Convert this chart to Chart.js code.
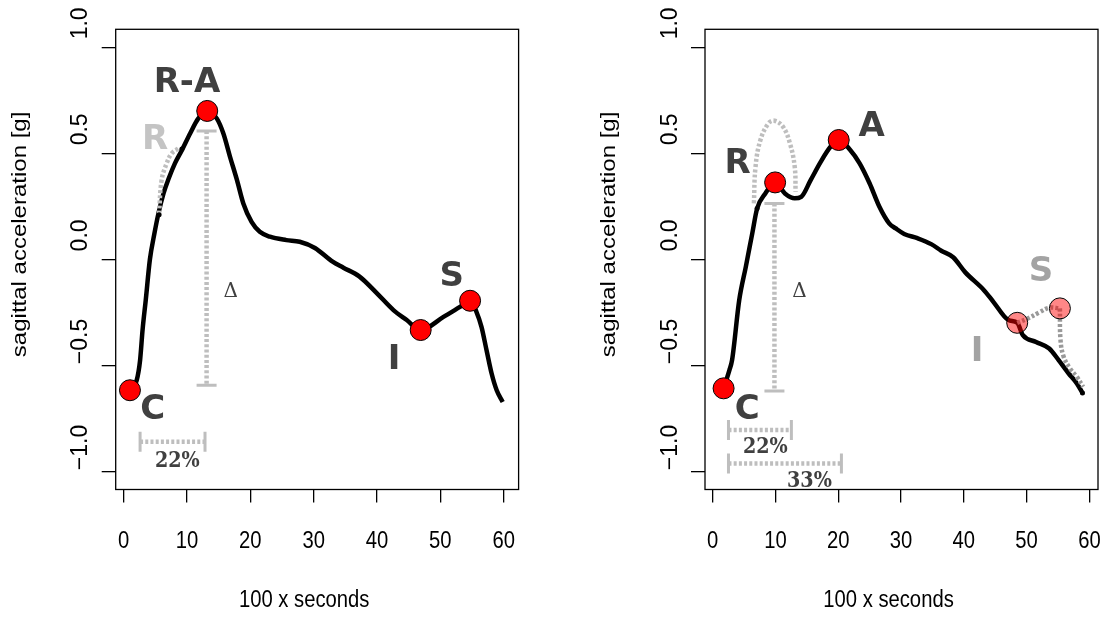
<!DOCTYPE html>
<html>
<head>
<meta charset="utf-8">
<script src="https://cdn.jsdelivr.net/npm/chart.js@4.4.0/dist/chart.umd.min.js"></script>
<style>
  html, body { margin: 0; padding: 0; background: #fff; }
  #wrap { position: relative; width: 1111px; height: 617px; overflow: hidden; }
  canvas { position: absolute; top: 0; }
  #leftChart { left: 0; }
  #rightChart { left: 560px; }
</style>
</head>
<body>
<div id="wrap">
  <canvas id="leftChart" width="560" height="617"></canvas>
  <canvas id="rightChart" width="551" height="617"></canvas>
</div>
<script>
// ticks (same for both panels)
const xTicks = [0, 10, 20, 30, 40, 50, 60];
const yTicks = [-1, -0.5, 0, 0.5, 1];
const yTickLabels = ["\u22121.0", "\u22120.5", "0.0", "0.5", "1.0"];
const xTitle = "100 x seconds";
const yTitle = "sagittal acceleration [g]";

// ---- left panel ----
const leftX = [1, 2.07, 2.6, 3.0, 3.5, 4.15, 4.85, 5.5, 6.3, 7.1, 8.1, 9.2, 10.5, 11.8, 13.2, 14.7, 15.75, 16.8, 17.9, 18.9, 20.2, 21.5, 23.1, 25.7, 27.8, 30.2, 33.0, 34.7, 37.2, 40.0, 42.6, 44.7, 46.9, 50.5, 53.1, 54.7, 55.7, 56.5, 57.3, 58.1, 58.9, 59.85];
const leftY = [-0.617, -0.569, -0.475, -0.33, -0.19, 0.0, 0.12, 0.217, 0.311, 0.38, 0.453, 0.515, 0.594, 0.665, 0.70, 0.665, 0.594, 0.484, 0.374, 0.264, 0.177, 0.13, 0.107, 0.091, 0.083, 0.054, -0.011, -0.039, -0.08, -0.16, -0.239, -0.286, -0.333, -0.271, -0.224, -0.195, -0.247, -0.318, -0.428, -0.538, -0.617, -0.672];
// C, R-A, I, S
const leftMarkX = [1, 13.2, 46.9, 54.7];
const leftMarkY = [-0.617, 0.70, -0.333, -0.195];
// grey "R" arc and its end dots
const leftArcX = [5.6, 6.0, 6.8, 7.6, 8.7];
const leftArcY = [0.215, 0.374, 0.453, 0.5, 0.524];
const leftArcEndX = [5.6, 9.2];
const leftArcEndY = [0.21, 0.52];
// delta bar and 22% bar
const leftDeltaX = [13.1, 13.1];
const leftDeltaY = [0.605, -0.593];
const leftPctX = [2.6, 12.85];
const leftPctY = [-0.86, -0.86];
// text labels
const leftLabelText = ["R-A", "R", "C", "I", "S", "\u0394", "22%"];
const leftLabelX = [10.0, 4.96, 4.6, 42.7, 51.8, 16.9, 8.48];
const leftLabelY = [0.846, 0.578, -0.695, -0.459, -0.066, -0.141, -0.939];
const leftLabelKind = ["dark", "light", "dark", "dark", "dark", "delta", "pct"];

// ---- right panel ----
const rightX = [1.73, 2.66, 3.08, 4.22, 5.27, 6.3, 7.07, 8.38, 9.94, 11.5, 13.06, 14.1, 15.6, 17.2, 18.76, 20.07, 21.9, 23.4, 25.0, 26.55, 28.1, 29.15, 30.5, 32.6, 34.8, 36.4, 38.3, 40.2, 43.2, 44.7, 47.1, 48.5, 49.4, 51.5, 53.6, 55.1, 56.7, 58.0, 58.9];
const rightY = [-0.608, -0.522, -0.475, -0.192, -0.035, 0.123, 0.24, 0.311, 0.363, 0.311, 0.288, 0.295, 0.374, 0.46, 0.531, 0.563, 0.516, 0.453, 0.358, 0.248, 0.17, 0.146, 0.12, 0.1, 0.072, 0.041, 0.01, -0.06, -0.145, -0.2, -0.286, -0.299, -0.357, -0.389, -0.42, -0.475, -0.538, -0.585, -0.63];
// C, R, A (solid) and I, S (faded)
const rightMarkX = [1.73, 9.94, 20.07];
const rightMarkY = [-0.608, 0.363, 0.563];
const rightFadedX = [48.5, 55.3];
const rightFadedY = [-0.299, -0.231];
// grey arc over R
const rightArcX = [6.56, 6.82, 7.6, 8.9, 9.83, 11.2, 12.3, 13.06, 13.2];
const rightArcY = [0.264, 0.437, 0.563, 0.642, 0.654, 0.625, 0.547, 0.437, 0.319];
const rightDotX = [7.07, 58.9];
const rightDotY = [0.24, -0.63];
// I -> S and S -> end dotted paths
const rightIsX = [48.5, 50.2, 52.0, 53.6, 55.3];
const rightIsY = [-0.299, -0.278, -0.25, -0.228, -0.231];
const rightSendX = [55.3, 55.4, 55.9, 56.9, 58.0, 59.0];
const rightSendY = [-0.231, -0.381, -0.459, -0.514, -0.554, -0.601];
// bars
const rightDeltaX = [9.83, 9.83];
const rightDeltaY = [0.264, -0.62];
const rightPct22X = [2.51, 12.53];
const rightPct22Y = [-0.805, -0.805];
const rightPct33X = [2.51, 20.5];
const rightPct33Y = [-0.962, -0.962];
// text labels
const rightLabelText = ["R", "A", "C", "I", "S", "\u0394", "22%", "33%"];
const rightLabelX = [3.96, 25.3, 5.5, 42.1, 52.3, 13.8, 8.38, 15.4];
const rightLabelY = [0.468, 0.641, -0.695, -0.42, -0.042, -0.145, -0.876, -1.033];
const rightLabelKind = ["dark", "dark", "dark", "grey", "grey", "delta", "pct", "pct"];

// styles
const labelStyle = {
  dark: { font: 'bold 34px "DejaVu Sans"', color: "#404040", cap: 0.73 },
  grey: { font: 'bold 34px "DejaVu Sans"', color: "#a3a3a3", cap: 0.73 },
  light: { font: 'bold 34px "DejaVu Sans"', color: "#c4c4c4", cap: 0.73 },
  delta: { font: '20px "DejaVu Serif"', color: "#404040", cap: 0.73 },
  pct: { font: 'bold 22px "DejaVu Serif"', color: "#404040", cap: 0.73, sx: 0.87 },
};
const DOTTED = "#bebebe";
const DOTTED_DARK = "#999999";
const BOX_TOP = 29.3;
const BOX_BOTTOM = 489.5;

const xy = (xs, ys) => xs.map((x, i) => ({ x: x, y: ys[i] }));

function drawText(ctx, text, x, y, font, color, opts) {
  opts = opts || {};
  ctx.save();
  ctx.translate(x, y);
  ctx.scale(opts.sx || 1, 1);
  if (opts.rotate) ctx.rotate(opts.rotate);
  ctx.font = font;
  ctx.fillStyle = color;
  ctx.textAlign = "center";
  ctx.textBaseline = "alphabetic";
  ctx.fillText(text, 0, opts.dy || 0);
  ctx.restore();
}

const rStylePlugin = {
  id: "rStyle",
  afterDraw(chart, args, opts) {
    const ctx = chart.ctx;
    const area = chart.chartArea;
    const xs = chart.scales.x;
    const ys = chart.scales.y;

    // box
    ctx.save();
    ctx.strokeStyle = "#000";
    ctx.lineWidth = 1.3;
    ctx.strokeRect(area.left, area.top, area.right - area.left, area.bottom - area.top);
    ctx.restore();

    // x tick labels
    xTicks.forEach((v) => {
      drawText(ctx, String(v), xs.getPixelForValue(v), 540 + 0.716 * 23 / 2,
        '23px "Liberation Sans"', "#000", { sx: 0.88 });
    });
    // y tick labels, rotated like R
    yTicks.forEach((v, i) => {
      drawText(ctx, yTickLabels[i], area.left - 28.5, ys.getPixelForValue(v) - 24,
        '23px "Liberation Sans"', "#000", { rotate: -Math.PI / 2 });
    });
    // axis titles
    const cx = (area.left + area.right) / 2 - 13;
    drawText(ctx, xTitle, cx, 599 + 0.716 * 23 / 2, '23px "Liberation Sans"', "#000", { sx: 0.88 });
    drawText(ctx, yTitle, area.left - 90, (area.top + area.bottom) / 2 - 25,
      '24px "Liberation Sans"', "#000", { rotate: -Math.PI / 2, sx: 0.82 });

    // annotations
    opts.text.forEach((t, i) => {
      const st = labelStyle[opts.kind[i]];
      const size = parseFloat(st.font.match(/(\d+)px/)[1]);
      drawText(ctx, t, xs.getPixelForValue(opts.x[i]),
        ys.getPixelForValue(opts.y[i]) + st.cap * size / 2, st.font, st.color, { sx: st.sx });
    });
  },
};

function markSet(data, fill, order) {
  return {
    data: data, showLine: false, order: order,
    pointRadius: 10.5, pointHoverRadius: 10.5,
    pointBackgroundColor: fill, pointBorderColor: "#000", pointBorderWidth: 1,
  };
}
function dotSet(data) {
  return {
    data: data, showLine: false, order: 0,
    pointRadius: 2.5, pointBackgroundColor: "#000", pointBorderColor: "#000", pointBorderWidth: 0,
  };
}
function dottedSet(data, color, order) {
  return {
    data: data, order: order, borderColor: color, borderWidth: 4.5,
    borderDash: [3, 2.2], tension: 0.4, pointRadius: 0,
  };
}
function barSet(data, rotation) {
  return {
    data: data, order: 3, borderColor: DOTTED, borderWidth: 4.5, borderDash: [3, 2.2],
    pointStyle: "line", pointRadius: 10, pointBorderColor: DOTTED, pointBorderWidth: 3,
    pointRotation: rotation, pointBackgroundColor: DOTTED,
  };
}
function curveSet(data) {
  return {
    data: data, order: 10, borderColor: "#000", borderWidth: 4.5,
    cubicInterpolationMode: "monotone", pointRadius: 0,
  };
}

function makePanel(canvasId, geom, datasets, labels) {
  const canvas = document.getElementById(canvasId);
  const W = canvas.width;
  const H = canvas.height;
  return new Chart(canvas, {
    type: "line",
    data: { datasets: datasets },
    options: {
      responsive: false,
      animation: false,
      devicePixelRatio: 1,
      events: [],
      layout: { padding: { left: 0, top: BOX_TOP, right: W - geom.right, bottom: 0 } },
      plugins: { legend: { display: false }, tooltip: { enabled: false }, rStyle: labels },
      scales: {
        x: {
          type: "linear", min: geom.xMin, max: geom.xMax,
          afterBuildTicks: (a) => { a.ticks = xTicks.map((v) => ({ value: v })); },
          afterFit: (s) => { s.height = H - BOX_BOTTOM; },
          ticks: { display: false },
          grid: { drawOnChartArea: false, drawTicks: true, tickLength: 13, color: "#000", lineWidth: 1.3 },
          border: { display: false },
        },
        y: {
          type: "linear", min: -1.085, max: 1.085,
          afterBuildTicks: (a) => { a.ticks = yTicks.map((v) => ({ value: v })); },
          afterFit: (s) => { s.width = geom.left; },
          ticks: { display: false },
          grid: { drawOnChartArea: false, drawTicks: true, tickLength: 14, color: "#000", lineWidth: 1.3 },
          border: { display: false },
        },
      },
    },
    plugins: [rStylePlugin],
  });
}

document.addEventListener("DOMContentLoaded", () => {
  makePanel("leftChart", { left: 115.7, right: 518.6, xMin: -1.25, xMax: 62.36 }, [
    markSet(xy(leftMarkX, leftMarkY), "#ff0000", 0),
    dotSet(xy(leftArcEndX, leftArcEndY)),
    dottedSet(xy(leftArcX, leftArcY), DOTTED, 4),
    barSet(xy(leftDeltaX, leftDeltaY), 0),
    barSet(xy(leftPctX, leftPctY), 90),
    curveSet(xy(leftX, leftY)),
  ], { text: leftLabelText, x: leftLabelX, y: leftLabelY, kind: leftLabelKind });

  makePanel("rightChart", { left: 145, right: 546.5, xMin: -1.23, xMax: 61.37 }, [
    markSet(xy(rightMarkX, rightMarkY), "#ff0000", 0),
    markSet(xy(rightFadedX, rightFadedY), "rgba(255,0,0,0.47)", 1),
    dotSet(xy(rightDotX, rightDotY)),
    dottedSet(xy(rightArcX, rightArcY), DOTTED, 4),
    dottedSet(xy(rightIsX, rightIsY), DOTTED_DARK, 4),
    dottedSet(xy(rightSendX, rightSendY), DOTTED_DARK, 4),
    barSet(xy(rightDeltaX, rightDeltaY), 0),
    barSet(xy(rightPct22X, rightPct22Y), 90),
    barSet(xy(rightPct33X, rightPct33Y), 90),
    curveSet(xy(rightX, rightY)),
  ], { text: rightLabelText, x: rightLabelX, y: rightLabelY, kind: rightLabelKind });
});
</script>
</body>
</html>
